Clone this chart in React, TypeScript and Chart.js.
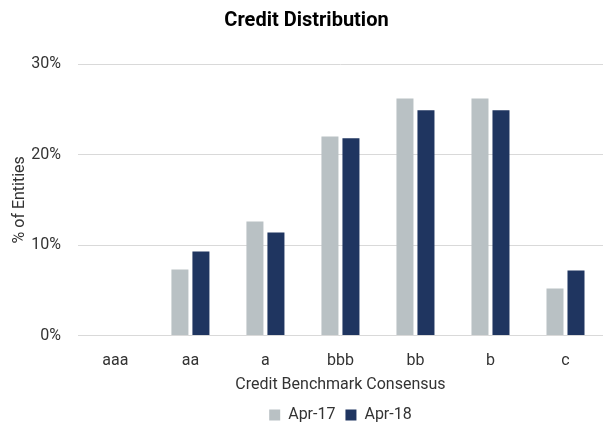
import React, { useEffect, useRef } from "react";
import { Chart, registerables } from "chart.js";

Chart.register(...registerables);

const categories = ["aaa", "aa", "a", "bbb", "bb", "b", "c"];
const apr17 = [0, 7.3, 12.6, 22.0, 26.2, 26.2, 5.2];
const apr18 = [0, 9.3, 11.4, 21.8, 24.9, 24.9, 7.2];
const seriesNames = ["Apr-17", "Apr-18"];

export default function App() {
  const ref = useRef<HTMLCanvasElement | null>(null);
  useEffect(() => {
    document.body.style.margin = "0";
    const ctx = ref.current!;
    const font = "Roboto";
    const chart = new Chart(ctx, {
      type: "bar",
      data: {
        labels: categories,
        datasets: [
          { label: seriesNames[0], data: apr17, backgroundColor: "#b9c1c4" },
          { label: seriesNames[1], data: apr18, backgroundColor: "#1f3560" },
        ],
      },
      options: {
        animation: false,
        responsive: false,
        layout: { padding: { left: 10, right: 7, top: 6, bottom: 0 } },
        datasets: { bar: { categoryPercentage: 0.56, barPercentage: 0.81 } },
        plugins: {
          title: {
            display: true,
            text: "Credit Distribution",
            color: "#000",
            font: { family: font, size: 20, weight: "bold" },
            padding: { top: 3, bottom: 31 },
          },
          legend: {
            position: "bottom",
            fullSize: false,
            labels: {
              color: "#333",
              font: { family: font, size: 16 },
              boxWidth: 11,
              boxHeight: 11,
              padding: 10,
            },
          },
          tooltip: { enabled: false },
        },
        scales: {
          x: {
            grid: { display: false },
            border: { display: false },
            ticks: { color: "#333", font: { family: font, size: 16 }, padding: 8 },
            title: {
              display: true,
              text: "Credit Benchmark Consensus",
              color: "#333",
              font: { family: font, size: 16 },
              padding: { top: -3, bottom: 2 },
            },
          },
          y: {
            min: 0,
            max: 30,
            ticks: {
              stepSize: 10,
              color: "#333",
              font: { family: font, size: 16 },
              padding: 17,
              callback: (v: any) => v + "%",
            },
            grid: { color: "#d9d9d9", drawTicks: false },
            border: { display: false },
            title: {
              display: true,
              text: "% of Entities",
              color: "#333",
              font: { family: font, size: 16 },
              padding: { top: 0, bottom: -15 },
            },
          },
        },
      },
    });
    return () => chart.destroy();
  }, []);
  return (
    <div style={{ width: 610, height: 433 }}>
      <canvas ref={ref} width={610} height={433} style={{ width: 610, height: 433 }} />
    </div>
  );
}
